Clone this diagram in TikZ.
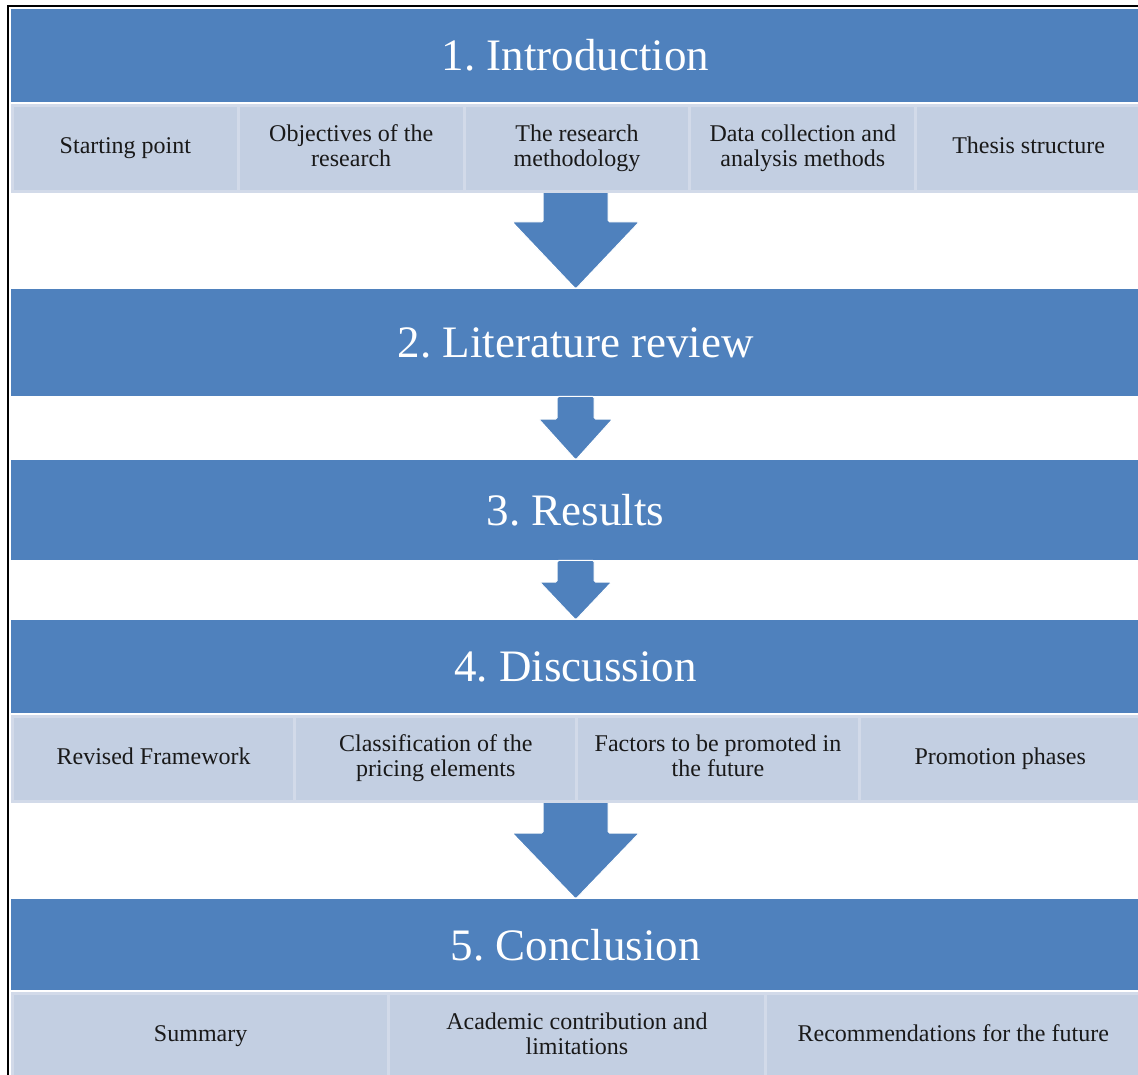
\documentclass[tikz,border=0pt]{standalone}
\usepackage{fontspec}
\setmainfont{Liberation Serif}
\usetikzlibrary{calc}
\frenchspacing

\definecolor{bandblue}{RGB}{79,129,189}
\definecolor{cellfill}{RGB}{195,207,226}
\definecolor{celledge}{RGB}{210,218,233}

% fixed height and depth for the first and last line of each cell
\newcommand\cellstrut{\rule[-6pt]{0pt}{22pt}}

\tikzset{
  band/.style={fill=bandblue, inner sep=0pt, minimum width=1129pt,
    font=\fontsize{45}{50}\selectfont, text=white, anchor=north west},
  cell/.style={fill=cellfill, draw=celledge, line width=3pt, inner sep=0pt,
    align=center, font=\fontsize{24}{25}\selectfont, text=black!90,
    execute at begin node=\cellstrut, execute at end node=\cellstrut,
    anchor=north west},
  flowarrow/.style={fill=bandblue, draw=white, line width=1pt, rounded corners=1.5pt},
  frame/.style={line width=2pt, black}
}

% downward block arrow from the bottom of #1 to the top of #2
% #3 shaft half width, #4 head half width, #5 head length
\newcommand\blockdown[5]{%
  \filldraw[flowarrow] let \p1=(#1), \p2=(#2) in
    (\x2-#3,\y1) -- (\x2+#3,\y1) -- (\x2+#3,\y2+#5) -- (\x2+#4,\y2+#5)
    -- (\x2,\y2) -- (\x2-#4,\y2+#5) -- (\x2-#3,\y2+#5) -- cycle;}

\begin{document}
\begin{tikzpicture}[x=1pt, y=-1pt]
  \useasboundingbox (0,0) rectangle (1138,1075);
  \fill[white] (0,0) rectangle (1138,1075);
  \clip (0,0) rectangle (1138,1075);

  % section bands
  \node[band, minimum height=93pt]  (b1) at (11,9)   {1. Introduction};
  \node[band, minimum height=107pt] (b2) at (11,289) {2. Literature review};
  \node[band, minimum height=100pt] (b3) at (11,460) {3. Results};
  \node[band, minimum height=93pt]  (b4) at (11,620) {4. Discussion};
  \node[band, minimum height=91pt]  (b5) at (11,899) {5. Conclusion};

  % arrows between the sections
  \coordinate (r1bot) at (575.5,189);
  \coordinate (r4bot) at (575.5,799);
  \blockdown{r1bot}{b2.north}{32.5pt}{63.5pt}{67pt}
  \blockdown{b2.south}{b3.north}{18.5pt}{37pt}{41pt}
  \blockdown{b3.south}{b4.north}{18.5pt}{36pt}{38pt}
  \blockdown{r4bot}{b5.north}{32.5pt}{63.5pt}{66pt}

  % introduction topics
  \node[cell, minimum width=225.8pt, minimum height=86pt] (i1) at (11,104)    {Starting point};
  \node[cell, minimum width=225.8pt, minimum height=86pt] (i2) at (236.8,104) {Objectives of the\\research};
  \node[cell, minimum width=225.8pt, minimum height=86pt] (i3) at (462.6,104) {The research\\methodology};
  \node[cell, minimum width=225.8pt, minimum height=86pt] (i4) at (688.4,104) {Data collection and\\analysis methods};
  \node[cell, minimum width=225.8pt, minimum height=86pt] (i5) at (914.2,104) {Thesis structure};

  % discussion topics
  \node[cell, minimum width=282.2pt, minimum height=85pt] (d1) at (11,715)    {Revised Framework};
  \node[cell, minimum width=282.2pt, minimum height=85pt] (d2) at (293.2,715) {Classification of the\\pricing elements};
  \node[cell, minimum width=282.2pt, minimum height=85pt] (d3) at (575.4,715) {Factors to be promoted in\\the future};
  \node[cell, minimum width=282.2pt, minimum height=85pt] (d4) at (857.6,715) {Promotion phases};

  % conclusion topics
  \node[cell, minimum width=376.3pt, minimum height=86pt] (c1) at (11,992)    {Summary};
  \node[cell, minimum width=376.3pt, minimum height=86pt] (c2) at (387.3,992) {Academic contribution and\\limitations};
  \node[cell, minimum width=376.3pt, minimum height=86pt] (c3) at (763.6,992) {Recommendations for the future};

  % page frame
  \draw[frame] (8,1076) -- (8,6) -- (1139,6);
\end{tikzpicture}
\end{document}
